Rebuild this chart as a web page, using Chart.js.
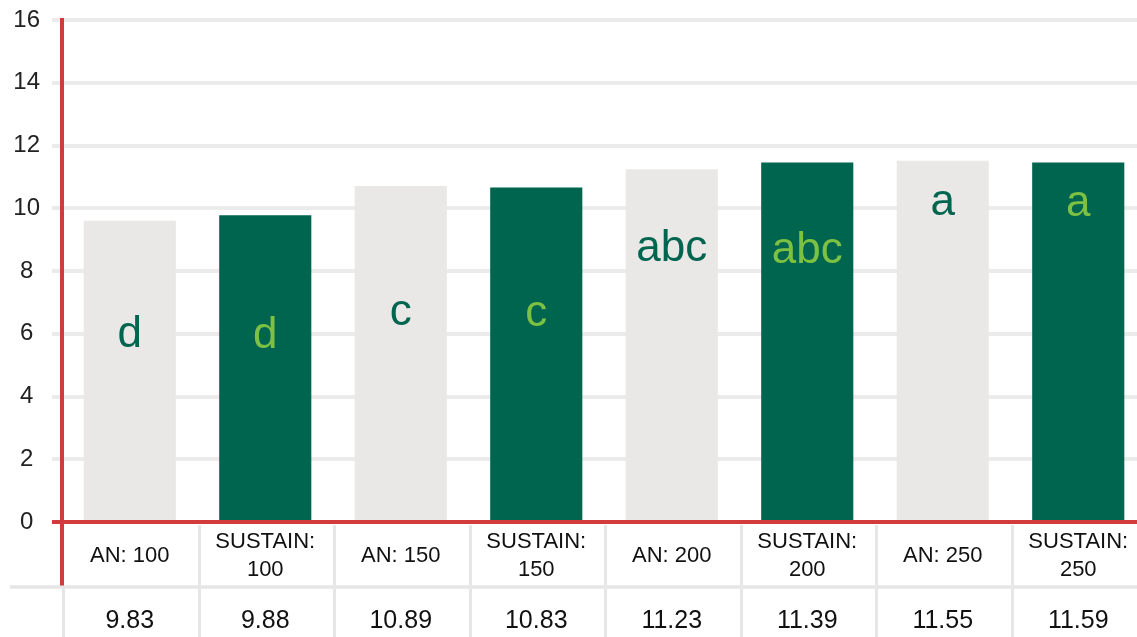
<!DOCTYPE html>
<html>
<head>
<meta charset="utf-8">
<script src="https://cdn.jsdelivr.net/npm/chart.js@4/dist/chart.umd.min.js"></script>
<style>
  html, body { margin: 0; padding: 0; background: #fff; overflow: hidden; }
  #wrap { position: absolute; left: 0; top: 0; }
</style>
</head>
<body>
<div id="wrap"><canvas id="chart" width="1150" height="637"></canvas></div>
<script>
// categories (x axis) - arrays give two-line labels
const categories = ['AN: 100', ['SUSTAIN:', '100'], 'AN: 150', ['SUSTAIN:', '150'],
                    'AN: 200', ['SUSTAIN:', '200'], 'AN: 250', ['SUSTAIN:', '250']];
// bar heights
const barValues = [9.6, 9.78, 10.71, 10.66, 11.24, 11.46, 11.51, 11.46];
// values printed in the table row under the axis
const tableValues = ['9.83', '9.88', '10.89', '10.83', '11.23', '11.39', '11.55', '11.59'];
// significance letters inside the bars
const letters = ['d', 'd', 'c', 'c', 'abc', 'abc', 'a', 'a'];
// y axis range
const yMin = 0;
const yMax = 16;
const yStep = 2;

const lightBar = '#E9E8E6';
const darkBar = '#00654F';
const lightGreenText = '#7DC142';
const axisRed = '#D13B3B';
const gridGrey = '#EBEBEB';
const tableGrey = '#E6E6E6';

const barColors = categories.map((c, i) => i % 2 === 0 ? lightBar : darkBar);

// letters + table rows under the x axis
const extrasPlugin = {
    id: 'extras',
    afterDatasetsDraw(chart, args, opts) {
        const ctx = chart.ctx;
        const y = chart.scales.y;
        const meta = chart.getDatasetMeta(0);
        ctx.save();
        ctx.font = '44px "Liberation Sans", Arial, sans-serif';
        ctx.textAlign = 'center';
        ctx.textBaseline = 'alphabetic';
        meta.data.forEach((bar, i) => {
            ctx.fillStyle = i % 2 === 0 ? darkBar : lightGreenText;
            ctx.fillText(letters[i], bar.x, y.getPixelForValue(opts.letterAt[i]));
        });
        ctx.restore();
    },
    afterDraw(chart, args, opts) {
        const ctx = chart.ctx;
        const area = chart.chartArea;
        const x = chart.scales.x;
        const step = x.width / categories.length;
        const rowTop = area.bottom + 3;
        const rowSplit = area.bottom + 65;
        const bottom = chart.height;

        ctx.save();
        // horizontal line between label row and value row
        ctx.strokeStyle = tableGrey;
        ctx.lineWidth = 3.5;
        ctx.beginPath();
        ctx.moveTo(10, rowSplit);
        ctx.lineTo(chart.width, rowSplit);
        ctx.stroke();

        // column separators
        ctx.lineWidth = 3;
        for (let k = 0; k <= categories.length; k++) {
            const px = Math.round(x.getPixelForValue(k) - step / 2) + 1.5;
            ctx.beginPath();
            if (k > 0) {
                ctx.moveTo(px, rowTop);
                ctx.lineTo(px, rowSplit - 1.5);
            }
            ctx.moveTo(px, rowSplit + 1.5);
            ctx.lineTo(px, bottom);
            ctx.stroke();
        }

        // red y axis carried down through the label row
        ctx.strokeStyle = axisRed;
        ctx.lineWidth = 4;
        ctx.beginPath();
        ctx.moveTo(area.left, area.bottom);
        ctx.lineTo(area.left, rowSplit - 1.5);
        ctx.stroke();

        // value row
        ctx.fillStyle = '#111';
        ctx.font = '25px "Liberation Sans", Arial, sans-serif';
        ctx.textAlign = 'center';
        ctx.textBaseline = 'alphabetic';
        tableValues.forEach((v, i) => {
            ctx.fillText(v, x.getPixelForValue(i), area.bottom + 106);
        });
        ctx.restore();
    }
};

new Chart(document.getElementById('chart').getContext('2d'), {
    type: 'bar',
    data: {
        labels: categories,
        datasets: [{
            data: barValues,
            backgroundColor: barColors,
            borderWidth: 0,
            categoryPercentage: 1,
            barPercentage: 0.68
        }]
    },
    options: {
        responsive: false,
        animation: false,
        devicePixelRatio: 1,
        layout: { padding: { top: 20, right: 4, bottom: 0, left: 0 } },
        plugins: {
            legend: { display: false },
            tooltip: { enabled: false },
            extras: { letterAt: [5.57, 5.55, 6.27, 6.24, 8.31, 8.26, 9.79, 9.76] }
        },
        scales: {
            x: {
                grid: { display: false, drawTicks: false },
                border: { display: false },
                ticks: {
                    color: '#111',
                    font: { family: '"Liberation Sans", Arial, sans-serif', size: 22, lineHeight: 1.27 },
                    padding: 20,
                    maxRotation: 0,
                    autoSkip: false,
                    crossAlign: 'center'
                },
                afterFit(scale) { scale.height = 115; }
            },
            y: {
                min: yMin,
                max: yMax,
                grid: {
                    color: ctx => ctx.tick && ctx.tick.value === 0 ? axisRed : gridGrey,
                    lineWidth: 4,
                    tickLength: 10
                },
                border: { display: true, color: axisRed, width: 4 },
                ticks: {
                    stepSize: yStep,
                    color: '#222',
                    font: { family: '"Liberation Sans", Arial, sans-serif', size: 24 },
                    padding: 12,
                    crossAlign: 'center'
                },
                afterFit(scale) {
                    scale.width = 62;
                    scale.paddingTop = 0;
                    scale.paddingBottom = 0;
                }
            }
        }
    },
    plugins: [extrasPlugin]
});
</script>
</body>
</html>
